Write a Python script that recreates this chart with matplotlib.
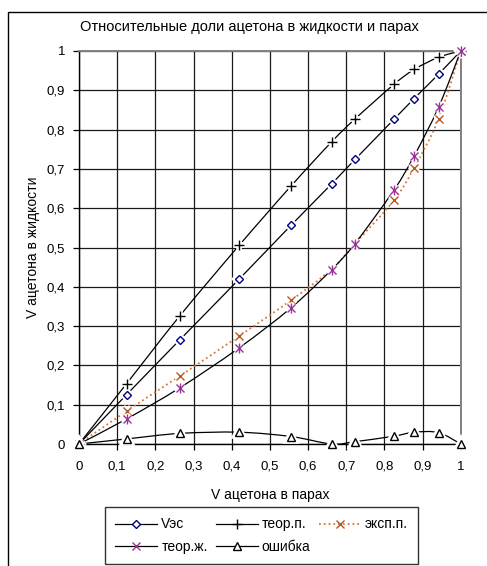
import numpy as np
import matplotlib.pyplot as plt
from matplotlib.path import Path
from matplotlib.patches import PathPatch, Rectangle
from matplotlib.lines import Line2D

plt.rcParams['font.family'] = ['Liberation Sans', 'DejaVu Sans']

# доли ацетона в парах (ось X) и значения серий
x_vap = [0, 0.125, 0.264, 0.42, 0.556, 0.662, 0.723, 0.825, 0.878, 0.942, 1]
v_es = [0, 0.126, 0.265, 0.42, 0.557, 0.662, 0.724, 0.826, 0.879, 0.941, 1]
teor_p = [0, 0.154, 0.326, 0.506, 0.657, 0.769, 0.827, 0.915, 0.953, 0.984, 1]
eksp_p = [0, 0.084, 0.173, 0.275, 0.366, 0.445, 0.51, 0.62, 0.703, 0.827, 1]
teor_zh = [0, 0.064, 0.143, 0.245, 0.347, 0.444, 0.51, 0.646, 0.733, 0.857, 1]
oshibka = [0, 0.013, 0.027, 0.03, 0.019, 0.0, 0.006, 0.02, 0.03, 0.029, 0]

tick_vals = [0, 0.1, 0.2, 0.3, 0.4, 0.5, 0.6, 0.7, 0.8, 0.9, 1]
tick_labels = ['0', '0,1', '0,2', '0,3', '0,4', '0,5', '0,6', '0,7', '0,8', '0,9', '1']


def smooth_path(xs, ys):
    """Bezier path through the points, like an Excel smoothed line."""
    p = np.column_stack([xs, ys]).astype(float)
    n = len(p)
    verts = [p[0]]
    codes = [Path.MOVETO]
    for i in range(n - 1):
        p0 = p[i - 1] if i > 0 else p[i]
        p3 = p[i + 2] if i + 2 < n else p[i + 1]
        c1 = p[i] + (p[i + 1] - p0) / 6.0
        c2 = p[i + 1] - (p3 - p[i]) / 6.0
        verts += [c1, c2, p[i + 1]]
        codes += [Path.CURVE4] * 3
    return Path(verts, codes)


fig = plt.figure(figsize=(4.87, 5.66), dpi=100)
ax = fig.add_axes([0.1622, 0.2155, 0.7838, 0.6944])

# рамка области диаграммы
fig.patches.append(Rectangle((8 / 487, -0.1), 1.2, 1 - 12 / 566 + 0.1,
                             transform=fig.transFigure, fill=False,
                             edgecolor='black', lw=1.0, zorder=0))

series = [
    (v_es, 'Vэс', dict(marker='D', ms=4.2, mfc='white', mec='#000080', mew=1.0), 'black', '-'),
    (teor_p, 'теор.п.', dict(marker='+', ms=7, mfc='none', mec='black', mew=1.0), 'black', '-'),
    (eksp_p, 'эксп.п.', dict(marker='x', ms=6, mfc='none', mec='#B8561E', mew=1.0), '#D9743A', ':'),
    (teor_zh, 'теор.ж.', dict(marker='x', ms=6, mfc='none', mec='#993399', mew=1.0), 'black', '-'),
    (oshibka, 'ошибка', dict(marker='^', ms=6, mfc='white', mec='black', mew=1.0), 'black', '-'),
]

handles = {}
for i, (vals, name, mk, lc, ls) in enumerate(series):
    ax.add_patch(PathPatch(smooth_path(x_vap, vals), fill=False, edgecolor=lc,
                           lw=1.3 if ls == ':' else 0.9, linestyle=ls, zorder=3,
                           clip_on=False))
for i, (vals, name, mk, lc, ls) in enumerate(series):
    z = 5 + i
    # белый ореол вокруг маркеров
    halo = dict(mk)
    halo.update(mec='white', mew=4, mfc='white' if mk['mfc'] == 'white' else 'none')
    ax.plot(x_vap, vals, ls='none', zorder=z, clip_on=False, **halo)
    ax.plot(x_vap, vals, ls='none', zorder=z + 0.5, clip_on=False, **mk)
    if name == 'теор.ж.':
        ax.plot(x_vap, vals, ls='none', marker='|', ms=7, mec=mk['mec'],
                mew=1.0, zorder=z + 0.5, clip_on=False)
    handles[name] = Line2D([], [], color=lc, ls=ls, lw=1.3 if ls == ':' else 0.9, **mk)

ax.set_xlim(0, 1)
ax.set_ylim(0, 1)
ax.set_xticks(tick_vals)
ax.set_xticklabels(tick_labels, fontsize=9.5)
ax.set_yticks(tick_vals)
ax.set_yticklabels(tick_labels, fontsize=9.5)
ax.tick_params(direction='out', length=4, width=0.9, color='black', pad=6)
ax.tick_params(axis='x', pad=8)
ax.grid(True, color='#1a1a1a', lw=0.9)
ax.set_axisbelow(True)
for side in ['top', 'right']:
    ax.spines[side].set_color('#808080')
    ax.spines[side].set_linewidth(1.4)
for side in ['left', 'bottom']:
    ax.spines[side].set_color('black')
    ax.spines[side].set_linewidth(1.0)

ax.set_xlabel('V ацетона в парах', fontsize=10, labelpad=11)
ax.set_ylabel('V ацетона в жидкости', fontsize=10, labelpad=5)
fig.text(0.513, 1 - 27 / 566, 'Относительные доли ацетона в жидкости и парах',
         ha='center', va='center', fontsize=10.5)

order = ['Vэс', 'теор.ж.', 'теор.п.', 'ошибка', 'эксп.п.']
leg = fig.legend([handles[k] for k in order], order, ncol=3, fontsize=10,
                 loc='upper left', bbox_to_anchor=(105 / 487, 1 - 507 / 566, 313 / 487, 0.0),
                 mode='expand', frameon=True, fancybox=False, handlelength=3.0,
                 handletextpad=0.3, columnspacing=0.6, borderpad=0.75, labelspacing=0.6,
                 borderaxespad=0)
leg.get_frame().set_edgecolor('black')
leg.get_frame().set_linewidth(1.0)

fig.savefig('out.png', dpi=100)
